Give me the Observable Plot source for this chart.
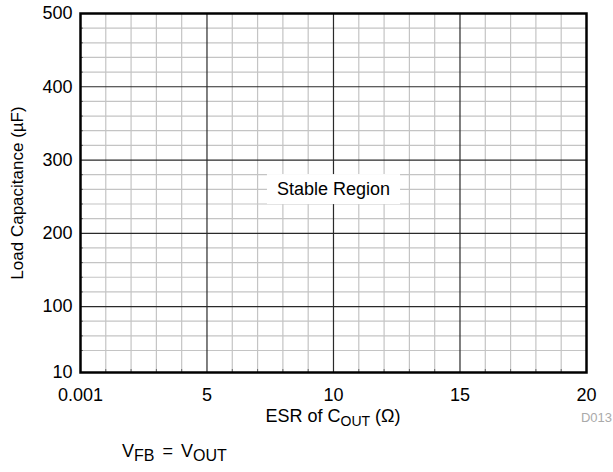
<!DOCTYPE html>
<html>
<head>
<meta charset="utf-8">
<script src="https://cdn.jsdelivr.net/npm/d3@7"></script>
<script src="https://cdn.jsdelivr.net/npm/@observablehq/plot@0.6"></script>
<style>
  html, body { margin: 0; padding: 0; background: #fff; }
  svg { overflow: visible; }
  svg text { font-family: "Liberation Sans", Arial, sans-serif; }
</style>
</head>
<body>
<div id="chart"></div>
<script>
// ---- data ----
const xDomain = [0.001, 20];
const yDomain = [10, 500];
const xMajorTicks = [0.001, 5, 10, 15, 20];
const yMajorTicks = [10, 100, 200, 300, 400, 500];
const xMajorGrid = [5, 10, 15];
const yMajorGrid = [100, 200, 300, 400];
const xMinorGrid = [1, 2, 3, 4, 6, 7, 8, 9, 11, 12, 13, 14, 16, 17, 18, 19];
const yMinorGrid = [40, 60, 80, 120, 140, 160, 180, 220, 240, 260, 280, 320, 340, 360, 380, 420, 440, 460, 480];
const regionLabels = [{text: "Stable Region", x: 10, y: 260}];
const xLabel = ["ESR of C", "OUT", " (\u03A9)"];
const yLabel = "Load Capacitance (\u00B5F)";
const figId = "D013";
const condition = ["V", "FB", " = V", "OUT"];

const font = '"Liberation Sans", Arial, sans-serif';

const plot = Plot.plot({
  width: 613,
  height: 472,
  marginLeft: 80,
  marginRight: 27,
  marginTop: 13,
  marginBottom: 100,
  style: {fontFamily: font, fontSize: "18px", background: "#fff", color: "#000", overflow: "visible"},
  x: {domain: xDomain},
  y: {domain: yDomain},
  marks: [
    Plot.ruleX(xMinorGrid, {stroke: "#c4c4c4", strokeWidth: 1.2}),
    Plot.ruleY(yMinorGrid, {stroke: "#c4c4c4", strokeWidth: 1.2}),
    Plot.ruleX(xMajorGrid, {stroke: "#2a2a2a", strokeWidth: 1.2}),
    Plot.ruleY(yMajorGrid, {stroke: "#2a2a2a", strokeWidth: 1.2}),
    Plot.axisX({ticks: xMinorGrid, tickSize: -3, tickFormat: () => "", label: null, stroke: "#666"}),
    Plot.axisY({ticks: yMinorGrid, tickSize: -3, tickFormat: () => "", label: null, stroke: "#666"}),
    Plot.axisX({ticks: xMajorTicks, anchor: "bottom", tickSize: 0, tickPadding: 16, label: null, fontSize: 18,
      tickFormat: d => d === 0.001 ? "0.001" : String(d)}),
    Plot.axisY({ticks: yMajorTicks, anchor: "left", tickSize: 0, tickPadding: 8, label: null, fontSize: 18,
      tickFormat: d => String(d)}),
    Plot.text(regionLabels, {x: "x", y: "y", text: "text", fontSize: 18, fill: "#000"}),
    Plot.frame({stroke: "#000", strokeWidth: 2.5})
  ]
});

document.getElementById("chart").appendChild(plot);
const svg = d3.select(plot);
svg.attr("overflow", "visible").style("overflow", "visible");

// white box behind the region label (bbox is in the text's local coordinates)
const labelTexts = new Set(regionLabels.map(d => d.text));
svg.selectAll("text").filter(function() { return labelTexts.has(this.textContent); }).each(function() {
  const b = this.getBBox();
  const padX = 10, padY = 6;
  const r = d3.select(this.parentNode).insert("rect", () => this)
    .attr("x", b.x - padX).attr("y", b.y - padY + 1)
    .attr("width", b.width + 2 * padX).attr("height", b.height + 2 * padY - 2)
    .attr("fill", "#fff");
  const t = this.getAttribute("transform");
  if (t) r.attr("transform", t);
});

// x axis label with subscript
const xl = svg.append("text")
  .attr("x", 333).attr("y", 422)
  .attr("text-anchor", "middle")
  .attr("font-size", 18).attr("fill", "#000").attr("font-family", font);
xl.append("tspan").text(xLabel[0]);
xl.append("tspan").attr("font-size", 14).attr("dy", 4).text(xLabel[1]);
xl.append("tspan").attr("dy", -4).text(xLabel[2]);

// y axis label
svg.append("text")
  .attr("transform", "translate(23,193) rotate(-90)")
  .attr("text-anchor", "middle")
  .attr("font-size", 17).attr("fill", "#000").attr("font-family", font)
  .text(yLabel);

// figure id
svg.append("text")
  .attr("x", 612).attr("y", 422)
  .attr("text-anchor", "end")
  .attr("font-size", 13).attr("fill", "#aaa").attr("font-family", font)
  .text(figId);

// condition note
const cn = svg.append("text")
  .attr("x", 122).attr("y", 457)
  .attr("text-anchor", "start")
  .attr("font-size", 18).attr("fill", "#000").attr("font-family", font)
  .attr("word-spacing", 3);
cn.append("tspan").text(condition[0]);
cn.append("tspan").attr("font-size", 16).attr("dy", 4).text(condition[1]);
cn.append("tspan").attr("dy", -4).text(condition[2]);
cn.append("tspan").attr("font-size", 16).attr("dy", 4).text(condition[3]);
</script>
</body>
</html>
